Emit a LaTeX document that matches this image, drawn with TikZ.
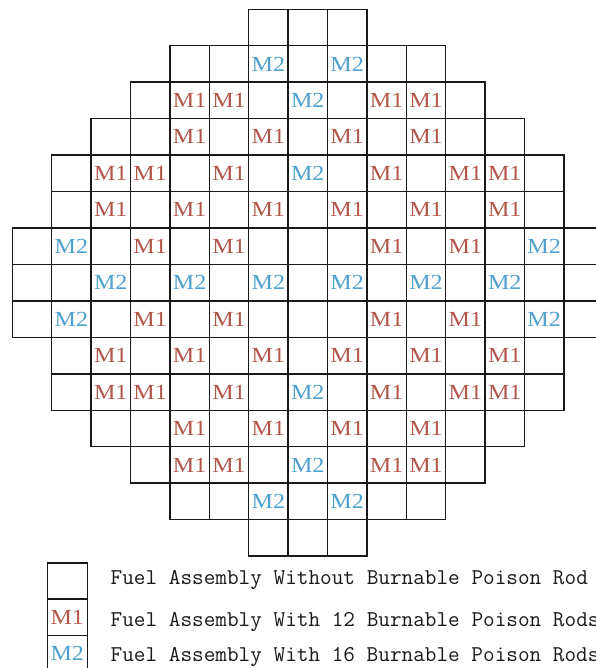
\documentclass[tikz,border=0pt]{standalone}
\usepackage{fontspec}
\newfontfamily\labfont{Liberation Serif}[FakeStretch=1.12]
\newfontfamily\legfont{Latin Modern Mono}
\definecolor{mone}{RGB}{178,86,74}
\definecolor{mtwo}{RGB}{78,160,206}
\definecolor{gridc}{RGB}{25,25,25}
\begin{document}
\begin{tikzpicture}[x=1pt,y=-1pt,
  cell/.style={draw=gridc,line width=1.5pt},
  mlab/.style={font=\labfont\fontsize{21.5}{21.5}\selectfont,inner sep=0pt},
  lab1/.style={mlab,text=mone},
  lab2/.style={mlab,text=mtwo},
  legbox/.style={draw=gridc,line width=1.5pt,minimum width=40pt,minimum height=36.5pt,inner sep=0pt,font=\labfont\fontsize{21.5}{21.5}\selectfont},
  legtxt/.style={font=\legfont\fontsize{22.6}{22.6}\selectfont,inner sep=0pt,anchor=base west,text=black!90}]
\useasboundingbox (0,0) rectangle (595,668);
% core grid
\foreach \k/\a/\b in {0/6/8,1/4/10,2/3/11,3/2/12,4/1/13,5/1/13,6/0/14,7/0/14,8/0/14,9/1/13,10/1/13,11/2/12,12/3/11,13/4/10,14/6/8}{
  \foreach \i in {\a,...,\b}{
    \draw[cell] ({12.3+39.4*\i},{9.3+36.45*\k}) rectangle ++(39.4,36.45);
  }
}
% labels
\foreach \k/\i/\t in {1/6/2,1/8/2,
  2/4/1,2/5/1,2/7/2,2/9/1,2/10/1,
  3/4/1,3/6/1,3/8/1,3/10/1,
  4/2/1,4/3/1,4/5/1,4/7/2,4/9/1,4/11/1,4/12/1,
  5/2/1,5/4/1,5/6/1,5/8/1,5/10/1,5/12/1,
  6/1/2,6/3/1,6/5/1,6/9/1,6/11/1,6/13/2,
  7/2/2,7/4/2,7/6/2,7/8/2,7/10/2,7/12/2,
  8/1/2,8/3/1,8/5/1,8/9/1,8/11/1,8/13/2,
  9/2/1,9/4/1,9/6/1,9/8/1,9/10/1,9/12/1,
  10/2/1,10/3/1,10/5/1,10/7/2,10/9/1,10/11/1,10/12/1,
  11/4/1,11/6/1,11/8/1,11/10/1,
  12/4/1,12/5/1,12/7/2,12/9/1,12/10/1,
  13/6/2,13/8/2}{
  \node[lab\t] (m-\k-\i) at ({32+39.4*\i},{27.5+36.45*\k}) {M\t};
}
% legend
\node[legbox] (key0) at (67.3,581) {};
\node[legbox,text=mone] (key1) at (67.3,617.3) {M1};
\node[legbox,text=mtwo] (key2) at (67.3,653.6) {M2};
\node[legtxt] (txt0) at (110.5,584.5) {Fuel Assembly Without Burnable Poison Rod};
\node[legtxt] (txt1) at (110.5,626.5) {Fuel Assembly With 12 Burnable Poison Rods};
\node[legtxt] (txt2) at (110.5,661) {Fuel Assembly With 16 Burnable Poison Rods};
\end{tikzpicture}
\end{document}
